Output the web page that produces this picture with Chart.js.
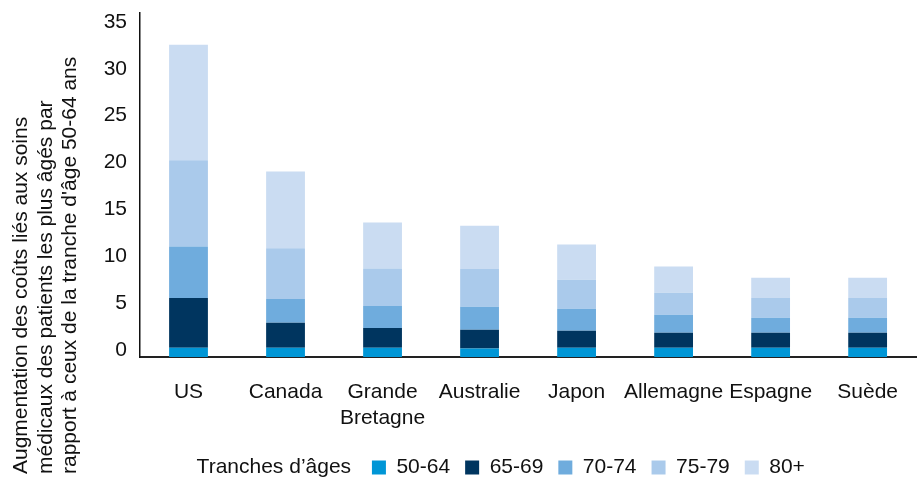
<!DOCTYPE html>
<html>
<head>
<meta charset="utf-8">
<script src="https://cdn.jsdelivr.net/npm/chart.js@4.4.1/dist/chart.umd.min.js"></script>
<style>
  html, body { margin: 0; padding: 0; background: #fff; }
  #wrap { width: 920px; height: 477px; }
</style>
</head>
<body>
<div id="wrap"><canvas id="chart"></canvas></div>
<script>
// categories
const pays = ['US', 'Canada', ['Grande', 'Bretagne'], 'Australie', 'Japon', 'Allemagne', 'Espagne', 'Suède'];

// values per age group (stacked)
const age5064 = [1.0, 1.0, 1.0, 0.9, 1.0, 1.0, 1.0, 1.0];
const age6569 = [5.3, 2.65, 2.1, 2.0, 1.8, 1.6, 1.6, 1.6];
const age7074 = [5.5, 2.55, 2.35, 2.45, 2.35, 1.9, 1.6, 1.6];
const age7579 = [9.2, 5.4, 4.0, 4.05, 3.1, 2.35, 2.1, 2.1];
const age80 = [12.3, 8.2, 4.9, 4.6, 3.75, 2.8, 2.15, 2.15];

const groupNames = ['50-64', '65-69', '70-74', '75-79', '80+'];
const groupColors = ['#0096d6', '#00355f', '#6facdd', '#aacaeb', '#cadcf2'];
const yTicks = [0, 5, 10, 15, 20, 25, 30, 35];

const legendTitle = 'Tranches d\u2019âges ';
const yTitle = [
  'Augmentation des coûts liés aux soins',
  'médicaux des patients les plus âgés par',
  'rapport à ceux de la tranche d\'âge 50-64 ans'
];

Chart.defaults.font.family = '"Liberation Sans", Arial, Helvetica, sans-serif';
Chart.defaults.font.size = 21;
Chart.defaults.color = '#111';

// y title drawn at left, starting from bottom
const yTitlePlugin = {
  id: 'yTitle',
  afterDraw(chart) {
    const ctx = chart.ctx;
    const xs = [27, 51.5, 76];
    ctx.save();
    ctx.font = '21px "Liberation Sans", Arial, sans-serif';
    ctx.fillStyle = '#111';
    ctx.textAlign = 'left';
    ctx.textBaseline = 'alphabetic';
    yTitle.forEach((line, i) => {
      ctx.save();
      ctx.translate(xs[i], 474);
      ctx.rotate(-Math.PI / 2);
      ctx.fillText(line, 0, 0);
      ctx.restore();
    });
    ctx.restore();
  }
};

const series = [age5064, age6569, age7074, age7579, age80];

const data = {
  labels: pays,
  datasets: series.map((vals, i) => ({
    label: groupNames[i],
    data: vals,
    backgroundColor: groupColors[i],
    borderWidth: 0,
    barPercentage: 0.4,
    categoryPercentage: 1.0
  }))
};

const config = {
  type: 'bar',
  data: data,
  options: {
    responsive: true,
    maintainAspectRatio: false,
    animation: false,
    layout: { padding: { left: 57, right: 0, top: 13, bottom: -11 } },
    plugins: {
      tooltip: { enabled: false },
      legend: {
        position: 'bottom',
        onClick: function() {},
        labels: {
          boxWidth: 14,
          boxHeight: 14,
          padding: 15,
          color: '#111',
          font: { size: 21 },
          generateLabels: function(chart) {
            const items = Chart.defaults.plugins.legend.labels.generateLabels(chart);
            items.unshift({
              text: legendTitle,
              fillStyle: 'rgba(0,0,0,0)',
              strokeStyle: 'rgba(0,0,0,0)',
              lineWidth: 0,
              hidden: false,
              fontColor: '#111'
            });
            return items;
          }
        }
      }
    },
    scales: {
      x: {
        stacked: true,
        grid: { display: false, drawTicks: false },
        border: { display: true, color: '#222', width: 2 },
        ticks: { padding: 22, color: '#111', font: { size: 21, lineHeight: 1.25 }, maxRotation: 0, autoSkip: false },
        afterFit: function(scale) { scale.height = 85; }
      },
      y: {
        stacked: true,
        min: 0,
        max: 36.7,
        grid: { display: false, drawTicks: false },
        border: { display: true, color: '#111', width: 1.5 },
        ticks: { stepSize: 5, padding: 13, labelOffset: -7, color: '#111', font: { size: 21 } },
        afterBuildTicks: function(scale) {
          scale.ticks = yTicks.map(v => ({ value: v }));
        },
        afterFit: function(scale) {
          scale.width = 83;
          scale.paddingTop = 0;
          scale.paddingBottom = 0;
        }
      }
    }
  },
  plugins: [yTitlePlugin]
};

const myChart = new Chart(document.getElementById('chart'), config);
</script>
</body>
</html>
